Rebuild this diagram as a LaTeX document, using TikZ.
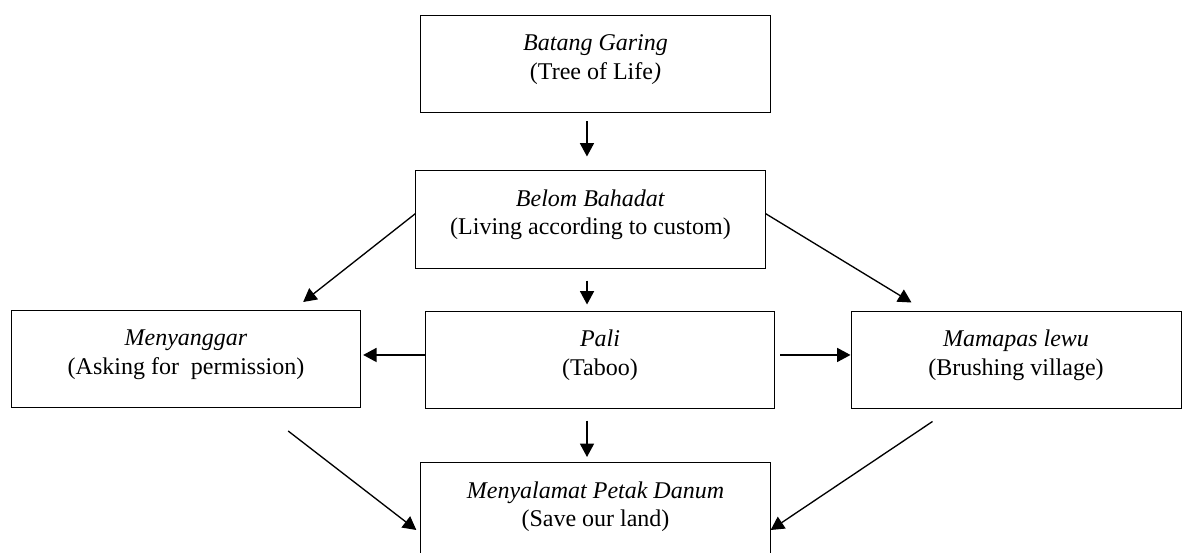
\documentclass[tikz,border=0pt]{standalone}
\usepackage{fontspec}
\setmainfont{Liberation Serif}
\usetikzlibrary{arrows.meta}

\begin{document}
\begin{tikzpicture}[x = .75pt, y = -.75pt, every node/.style = {draw = black, shape = rectangle, line width = .75pt, align = center, inner sep = 0pt, text depth = 10pt, minimum width = 262pt, minimum height = 72.75pt, font = \fontsize{18}{21.5}\selectfont}, arr/.style = {-{Triangle[length = 10pt, width = 10.5pt]}, line width = 1pt}]
	\useasboundingbox (0,0) rectangle (1189,553);
	%\draw[help lines] (0,0) grid (1189,553);
	\node (top) at (595.5,64) {\textit{Batang Garing}\\(Tree of Life\textit{)}};
	\node (belom) at (590.5,219) [minimum height = 73.5pt] {\textit{Belom Bahadat}\\(Living according to custom)};
	\node (meny) at (186,359) {\textit{Menyanggar}\\(Asking for\ \ permission)};
	\node (pali) at (600,359.5) {\textit{Pali}\\(Taboo)};
	\node (mama) at (1016,359.5) [minimum width = 247.5pt] {\textit{Mamapas lewu}\\(Brushing village)};
	\node (save) at (595.5,511) {\textit{Menyalamat Petak Danum}\\(Save our land)};

	\draw[arr, shorten < = 6pt, shorten > = 9.75pt] ([xshift = -6.4pt]top.south) -- ([xshift = -6.4pt]top.south |- belom.north);
	\draw[arr, shorten < = 9pt, shorten > = 4.5pt] ([xshift = -2.6pt]belom.south) -- ([xshift = -2.6pt]belom.south |- pali.north);
	\draw[arr] ([yshift = 4pt]belom.west) -- ([shift = {(-43.5pt,6pt)}]meny.north east);
	\draw[arr] ([yshift = 4pt]belom.east) -- ([shift = {(45.75pt,6pt)}]mama.north west);
	\draw[arr, shorten > = 1.5pt] ([yshift = 3.4pt]pali.west) -- ([yshift = 3.4pt]pali.west -| meny.east);
	\draw[arr, shorten < = 3.75pt] ([yshift = 3.4pt]pali.east) -- ([yshift = 3.4pt]pali.east -| mama.west);
	\draw[arr, shorten < = 9pt, shorten > = 3.75pt] ([xshift = -9.75pt]pali.south) -- ([xshift = -9.75pt]pali.south |- save.north);
	\draw[arr] ([shift = {(-54.75pt,-17.25pt)}]meny.south east) -- ([shift = {(-3pt,-14.25pt)}]save.west);
	\draw[arr] ([shift = {(61.5pt,-9.75pt)}]mama.south west) -- ([yshift = -14.25pt]save.east);
\end{tikzpicture}
\end{document}
